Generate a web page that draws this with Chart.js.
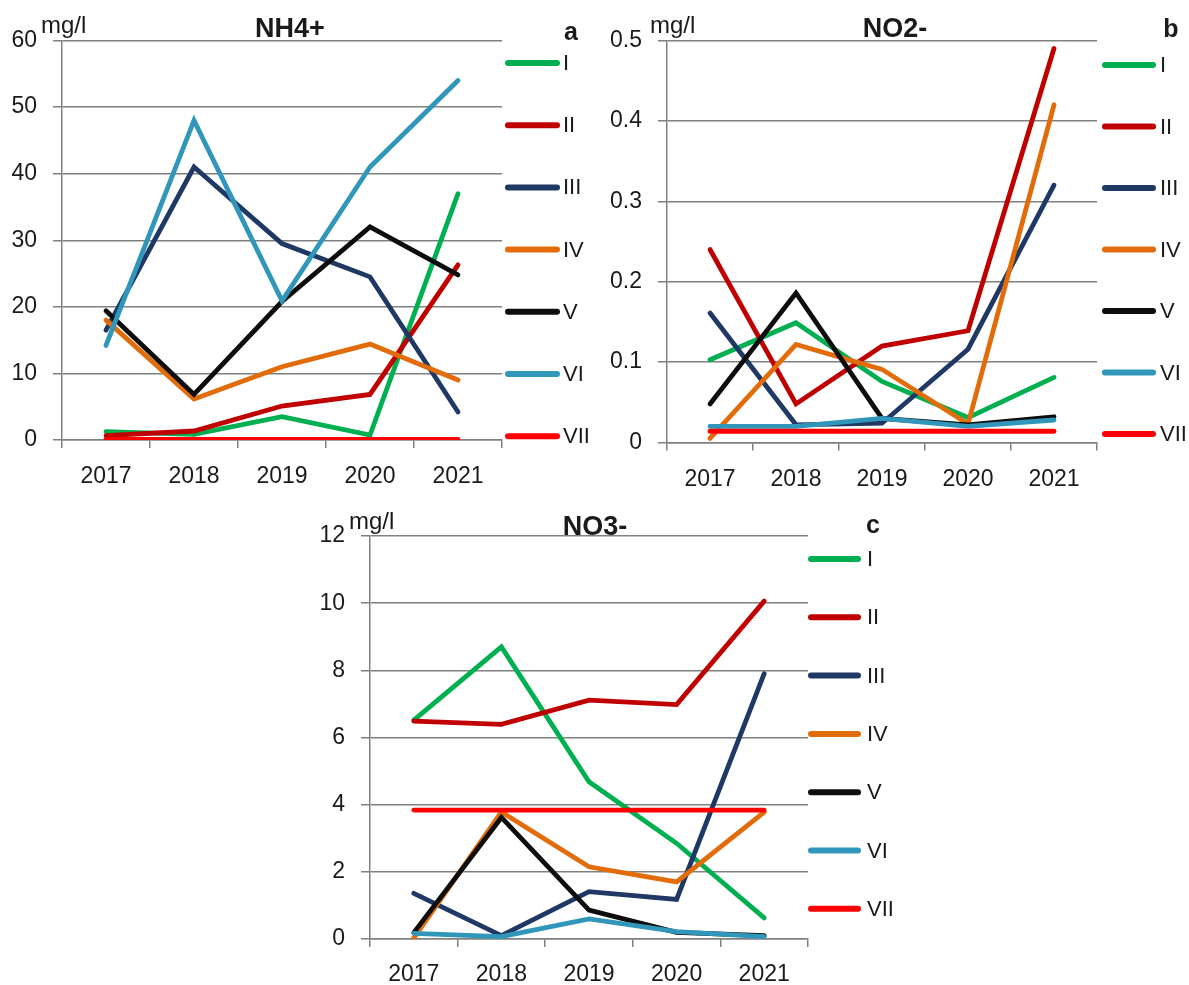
<!DOCTYPE html>
<html><head><meta charset="utf-8">
<script src="https://cdn.jsdelivr.net/npm/chart.js@4/dist/chart.umd.min.js"></script>
<style>
html,body{margin:0;padding:0;background:#fff;width:1189px;height:985px;overflow:hidden;}
canvas{position:absolute;}
</style></head><body>
<canvas id="ca" width="594" height="490" style="left:0;top:0"></canvas>
<canvas id="cb" width="595" height="490" style="left:594px;top:0"></canvas>
<canvas id="cc" width="650" height="495" style="left:290px;top:490px"></canvas>
<script>
// ---- data ----
const years = ['2017', '2018', '2019', '2020', '2021'];
const seriesNames = ['I', 'II', 'III', 'IV', 'V', 'VI', 'VII'];
const seriesColors = ['#00b050', '#c00000', '#1f3864', '#e36c0a', '#0d0d0d', '#3097bb', '#ff0000'];

// NH4+ (mg/l)
const nh4_I   = [1.25, 0.85, 3.5, 0.75, 37];
const nh4_II  = [0.65, 1.35, 5.1, 6.85, 26.3];
const nh4_III = [16.5, 41, 29.5, 24.5, 4.2];
const nh4_IV  = [18, 6.15, 11, 14.4, 9.0];
const nh4_V   = [19.4, 6.85, 20.8, 32, 24.8];
const nh4_VI  = [14.2, 48, 20.9, 41, 54];
const nh4_VII = [0.1, 0.1, 0.1, 0.1, 0.1];
const nh4Ticks = { min: 0, max: 60, step: 10 };

// NO2- (mg/l)
const no2_I   = [0.103, 0.149, 0.076, 0.031, 0.081];
const no2_II  = [0.24, 0.048, 0.12, 0.139, 0.49];
const no2_III = [0.161, 0.022, 0.024, 0.116, 0.32];
const no2_IV  = [0.005, 0.122, 0.091, 0.023, 0.42];
const no2_V   = [0.048, 0.186, 0.03, 0.022, 0.032];
const no2_VI  = [0.02, 0.02, 0.03, 0.02, 0.028];
const no2_VII = [0.014, 0.014, 0.014, 0.014, 0.014];
const no2Ticks = { min: 0, max: 0.5, step: 0.1 };

// NO3- (mg/l)
const no3_I   = [6.52, 8.7, 4.68, 2.85, 0.63];
const no3_II  = [6.49, 6.39, 7.11, 6.98, 10.06];
const no3_III = [1.36, 0.1, 1.41, 1.18, 7.9];
const no3_IV  = [0.03, 3.78, 2.15, 1.7, 3.78];
const no3_V   = [0.19, 3.62, 0.86, 0.2, 0.1];
const no3_VI  = [0.17, 0.07, 0.6, 0.22, 0.07];
const no3_VII = [3.84, 3.84, 3.84, 3.84, 3.84];
const no3Ticks = { min: 0, max: 12, step: 2 };

// ---- rendering ----
const FONT = '"Liberation Sans", Arial, sans-serif';
const TXT = '#1a1a1a';
const GRID = '#808080';

const extrasPlugin = {
  id: 'extras',
  afterDraw(chart, args, o) {
    const ctx = chart.ctx;
    ctx.save();
    ctx.fillStyle = TXT;
    ctx.textBaseline = 'alphabetic';
    ctx.textAlign = 'center';
    ctx.font = 'bold 27px ' + FONT;
    ctx.fillText(o.title, o.titleX, o.titleY);
    ctx.font = 'bold 25px ' + FONT;
    ctx.fillText(o.letter, o.letterX, o.letterY);
    ctx.textAlign = 'left';
    ctx.font = '24px ' + FONT;
    ctx.fillText('mg/l', o.unitX, o.unitY);
    chart.data.datasets.forEach((ds, i) => {
      const y = o.legY0 + i * o.legStep;
      ctx.strokeStyle = ds.borderColor;
      ctx.lineWidth = 6;
      ctx.lineCap = 'round';
      ctx.beginPath();
      ctx.moveTo(o.legX1, y);
      ctx.lineTo(o.legX2, y);
      ctx.stroke();
      ctx.font = '22px ' + FONT;
      ctx.textAlign = 'left';
      ctx.textBaseline = 'middle';
      ctx.fillText(ds.label, o.labX, y + 1);
    });
    ctx.restore();
  }
};

function makeChart(id, seriesList, ticks, lay, extras) {
  const datasets = seriesList.map((vals, i) => ({
    label: seriesNames[i],
    data: vals,
    borderColor: seriesColors[i],
    backgroundColor: seriesColors[i],
    borderWidth: 4.8,
    borderCapStyle: 'round',
    borderJoinStyle: 'miter',
    pointRadius: 0,
    tension: 0,
    fill: false,
    order: seriesList.length - i
  }));
  return new Chart(document.getElementById(id), {
    type: 'line',
    data: { labels: years, datasets },
    plugins: [extrasPlugin],
    options: {
      responsive: false,
      animation: false,
      devicePixelRatio: 1,
      layout: { padding: { top: lay.top, right: lay.right, bottom: lay.bottom, left: 0 } },
      plugins: { legend: { display: false }, tooltip: { enabled: false }, title: { display: false }, extras },
      scales: {
        x: {
          type: 'category',
          offset: true,
          afterFit: s => { s.height = lay.xHeight; },
          grid: { display: true, offset: true, drawOnChartArea: false, drawTicks: true, tickLength: 8, color: GRID, lineWidth: 1.5 },
          border: { display: true, color: GRID, width: 1.5 },
          ticks: { color: TXT, font: { family: FONT, size: 23 }, padding: lay.xPad, maxRotation: 0 }
        },
        y: {
          min: ticks.min, max: ticks.max,
          afterFit: s => { s.width = lay.yWidth; },
          grid: { color: GRID, lineWidth: 1.5, drawTicks: true, tickLength: 9 },
          border: { display: true, color: GRID, width: 1.5 },
          ticks: { stepSize: ticks.step, color: TXT, font: { family: FONT, size: 23 }, padding: 16 }
        }
      }
    }
  });
}

makeChart('ca', [nh4_I, nh4_II, nh4_III, nh4_IV, nh4_V, nh4_VI, nh4_VII], nh4Ticks,
  { top: 40.5, right: 92, bottom: 2, xHeight: 48, yWidth: 62, xPad: 15 },
  { title: 'NH4+', titleX: 290, titleY: 37, letter: 'a', letterX: 571, letterY: 40,
    unitX: 41, unitY: 33, legX1: 508, legX2: 557, labX: 563, legY0: 63, legStep: 62.2 });

makeChart('cb', [no2_I, no2_II, no2_III, no2_IV, no2_V, no2_VI, no2_VII], no2Ticks,
  { top: 40.5, right: 92, bottom: 0.5, xHeight: 47, yWidth: 73, xPad: 15 },
  { title: 'NO2-', titleX: 301, titleY: 37, letter: 'b', letterX: 577, letterY: 37,
    unitX: 56, unitY: 33, legX1: 511, legX2: 559, labX: 566, legY0: 65, legStep: 61.5 });

makeChart('cc', [no3_I, no3_II, no3_III, no3_IV, no3_V, no3_VI, no3_VII], no3Ticks,
  { top: 46, right: 132, bottom: 0, xHeight: 46, yWidth: 80, xPad: 14 },
  { title: 'NO3-', titleX: 305, titleY: 45, letter: 'c', letterX: 583, letterY: 43,
    unitX: 59, unitY: 39, legX1: 521, legX2: 568, labX: 577, legY0: 69, legStep: 58.3 });
</script>
</body></html>
